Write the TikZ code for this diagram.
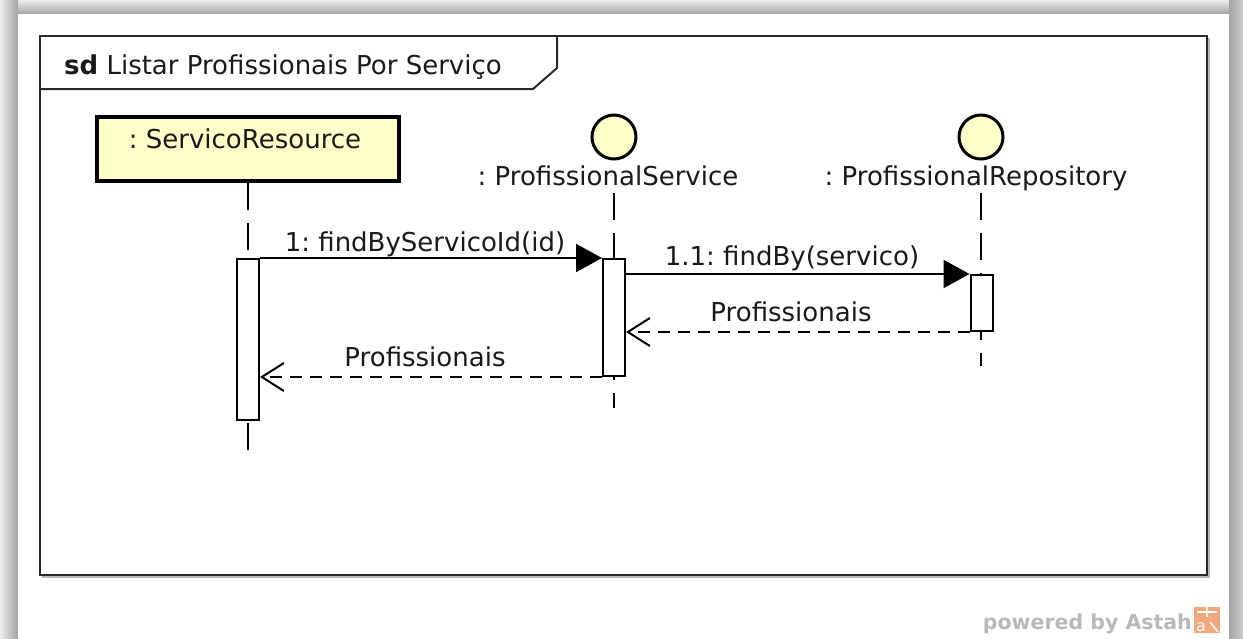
\documentclass[tikz,border=0pt]{standalone}
\usepackage{fontspec}
\setmainfont{DejaVu Sans}
\usetikzlibrary{arrows.meta,calc}
\definecolor{lifeyellow}{HTML}{FFFFC8}
\definecolor{shadowgrey}{HTML}{A4A4A4}
\definecolor{shadowlight}{HTML}{EDEDED}
\definecolor{framedark}{HTML}{2A2A2A}
\definecolor{astahgrey}{HTML}{B9B9B9}
\definecolor{astahorange}{HTML}{F5A77C}
\definecolor{textdark}{HTML}{1A1A1A}
\frenchspacing
\begin{document}
\begin{tikzpicture}[x=1pt,y=-1pt,
  font=\fontsize{26}{31}\selectfont, text=textdark,
  lifeline/.style={line width=2pt, dash pattern=on 27pt off 13pt},
  activation/.style={draw, line width=2pt, fill=white, minimum width=22pt, inner sep=0pt},
  callmsg/.style={line width=2pt, -{Triangle[length=26pt,width=28pt]}},
  replymsg/.style={line width=2pt, dash pattern=on 12pt off 8pt, -{Straight Barb[length=22pt,width=28pt]}},
  msglabel/.style={anchor=base, inner sep=0pt},
  headcircle/.style={draw, circle, line width=3pt, fill=lifeyellow, minimum size=44pt, inner sep=0pt}]
\useasboundingbox (0,0) rectangle (1243,638);
% background panel with shadow
\fill[white] (0,0) rectangle (1243,638);
\shade[top color=shadowlight, bottom color=shadowgrey] (0,0) rectangle (1243,14);
\shade[left color=shadowlight, right color=shadowgrey] (0,0) rectangle (18,638);
\shade[left color=shadowgrey, right color=shadowgrey!55] (1229,0) rectangle (1243,638);
\fill[white] (18,14) rectangle (1229,638);
% frame
\draw[line width=1.5pt, gray!55] (42,577) -- (1209,577) -- (1209,38);
\draw[line width=2pt, framedark] (40,36) rectangle (1207,575);
\draw[line width=2pt, framedark] (40,89) -- (533,89) -- (557,68) -- (557,36);
\node[anchor=base west, inner sep=0pt] (title) at (64,74) {\textbf{sd} Listar Profissionais Por Serviço};
% lifeline heads
\node[draw, line width=4pt, fill=lifeyellow, minimum width=302pt, minimum height=64pt, inner sep=0pt] (sr) at (248,149) {};
\node[anchor=base, inner sep=0pt] (srlabel) at (245,148) {: ServicoResource};
\node[headcircle] (ps) at (614,137) {};
\node[anchor=base, inner sep=0pt] (pslabel) at (608,185) {: ProfissionalService};
\node[headcircle] (pr) at (981,137) {};
\node[anchor=base, inner sep=0pt] (prlabel) at (976,185) {: ProfissionalRepository};
% lifelines
\coordinate (srend) at (248,450);
\coordinate (pstop) at (614,193);
\coordinate (psend) at (614,408);
\coordinate (prtop) at (981,193);
\coordinate (prend) at (981,366);
\draw[lifeline] (sr.south) -- (srend);
\draw[lifeline] (pstop) -- (psend);
\draw[lifeline] (prtop) -- (prend);
% activations
\node[activation, minimum height=161pt] (a1) at (248,339.5) {};
\node[activation, minimum height=117pt] (a2) at (614,317.5) {};
\node[activation, minimum height=56pt] (a3) at (981.5,303) {};
% messages
\draw[callmsg] (a1.north east) -- (a2.north west);
\node[msglabel] (m1) at (425,251) {1: findByServicoId(id)};
\draw[callmsg] (a2.east |- a3.north west) -- (a3.north west);
\node[msglabel] (m11) at (792,265) {1.1: findBy(servico)};
\draw[replymsg] (a3.south west) -- (a2.east |- a3.south west);
\node[msglabel] (r11) at (791,321) {Profissionais};
\draw[replymsg] (a2.south west) -- (a1.east |- a2.south west);
\node[msglabel] (r1) at (425,366) {Profissionais};
% powered by Astah
\node[anchor=base east, inner sep=0pt, text=astahgrey, font=\bfseries\fontsize{20.5}{24}\selectfont] (powered) at (1192,629) {powered by Astah};
\node[fill=astahorange, minimum width=26pt, minimum height=26pt, inner sep=0pt] (logo) at (1207,620) {};
\node[text=white, inner sep=0pt, anchor=base, font=\fontsize{16}{18}\selectfont] (logoa) at (1201,631) {a};
\draw[white, line width=1.5pt] (1210,622) -- (1218,632);
\draw[white, line width=1.5pt] (1197,612) -- (1217,612);
\draw[white, line width=1.5pt] (1207,607) -- (1207,617);
\end{tikzpicture}
\end{document}
